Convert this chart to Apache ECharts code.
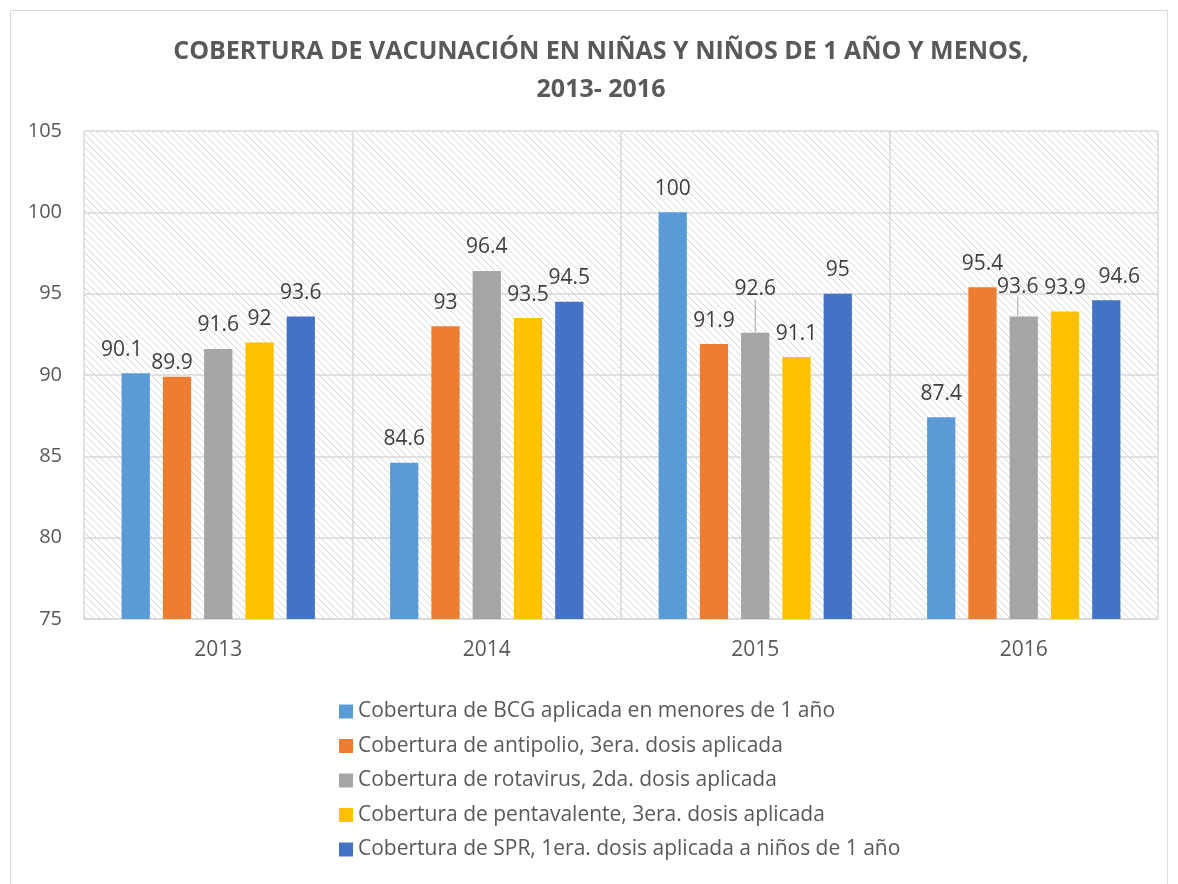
<!DOCTYPE html>
<html>
<head>
<meta charset="utf-8">
<script src="https://cdn.jsdelivr.net/npm/echarts@6/dist/echarts.min.js"></script>
<style>
  html, body { margin: 0; padding: 0; background: #fff; }
  #chart { width: 1178px; height: 884px; }
</style>
</head>
<body>
<div id="chart"></div>
<script>
var years = ['2013', '2014', '2015', '2016'];
var seriesNames = [
	'Cobertura de BCG aplicada en menores de 1 año',
	'Cobertura de antipolio, 3era. dosis aplicada',
	'Cobertura de rotavirus, 2da. dosis aplicada',
	'Cobertura de pentavalente, 3era. dosis aplicada',
	'Cobertura de SPR, 1era. dosis aplicada a niños de 1 año'
];
var bcg = [90.1, 84.6, 100, 87.4];
var antipolio = [89.9, 93, 91.9, 95.4];
var rotavirus = [91.6, 96.4, 92.6, 93.6];
var pentavalente = [92, 93.5, 91.1, 93.9];
var spr = [93.6, 94.5, 95, 94.6];
var yMin = 75, yMax = 105, yStep = 5;

var colors = ['#5B9BD5', '#ED7D31', '#A5A5A5', '#FFC000', '#4472C4'];
var font = 'Open Sans';

// hatch tile for plot background (excel "wide downward diagonal")
function hatch() {
	var c = document.createElement('canvas');
	var n = 7;
	c.width = n; c.height = n;
	var ctx = c.getContext('2d');
	ctx.fillStyle = '#fff';
	ctx.fillRect(0, 0, n, n);
	ctx.fillStyle = '#d6d6d6';
	for (var i = 0; i < n; i++) {
		ctx.fillRect(i, i, 1, 1);
	}
	return c;
}

// labels that excel had nudged away, [dx, dy] keyed by series-index
var moved = {
	'2-2': [0, -20],
	'2-3': [-6, -6],
	'4-3': [13, 0],
	'0-0': [-14, 0],
	'1-0': [-5, 10]
};

var allData = [bcg, antipolio, rotavirus, pentavalente, spr];
var series = allData.map(function (arr, s) {
	return {
		name: seriesNames[s],
		type: 'bar',
		barGap: '46%',
		barCategoryGap: '28%',
		itemStyle: {color: colors[s]},
		label: {
			show: true,
			position: 'top',
			distance: 13,
			color: '#404040',
			fontFamily: font,
			fontSize: 21
		},
		labelLine: {show: false, lineStyle: {color: '#a6a6a6', width: 1}},
		labelLayout: function (p) {
			var m = moved[p.seriesIndex + '-' + p.dataIndex];
			if (!m) return {};
			var r = p.labelRect;
			return {
				x: r.x + r.width / 2 + m[0],
				y: r.y + r.height / 2 + m[1],
				align: 'center',
				verticalAlign: 'middle'
			};
		},
		data: arr.map(function (v, i) {
			var item = {value: v};
			if (s === 2 && (i === 2 || i === 3)) item.labelLine = {show: true};
			return item;
		})
	};
});

var chart = echarts.init(document.getElementById('chart'));
chart.setOption({
	animation: false,
	color: colors,
	title: {
		text: 'COBERTURA DE VACUNACIÓN EN NIÑAS Y NIÑOS DE 1 AÑO Y MENOS,\n2013- 2016',
		left: 596,
		top: 28,
		textAlign: 'center',
		textStyle: {
			fontFamily: font,
			fontWeight: 'bold',
			fontSize: 25,
			color: '#595959',
			lineHeight: 38
		}
	},
	graphic: [{
		type: 'rect',
		shape: {x: 10.5, y: 10.5, width: 1157, height: 900},
		style: {fill: null, stroke: '#d9d9d9', lineWidth: 1},
		silent: true
	}],
	legend: {
		orient: 'vertical',
		left: 334,
		top: 696,
		itemWidth: 14,
		itemHeight: 14,
		itemGap: 13.5,
		icon: 'rect',
		textStyle: {fontFamily: font, fontSize: 21, color: '#595959'}
	},
	grid: {
		left: 84,
		right: 20,
		top: 131,
		bottom: 265,
		show: true,
		borderWidth: 0,
		backgroundColor: {image: hatch(), repeat: 'repeat'}
	},
	xAxis: {
		type: 'category',
		data: years,
		axisLine: {show: true, lineStyle: {color: '#d9d9d9', width: 1.5}},
		axisTick: {show: false},
		axisLabel: {margin: 21, fontFamily: font, fontSize: 21, color: '#595959'},
		splitLine: {show: true, lineStyle: {color: '#d9d9d9', width: 1.5}}
	},
	yAxis: {
		type: 'value',
		min: yMin,
		max: yMax,
		interval: yStep,
		axisLine: {show: false},
		axisTick: {show: false},
		axisLabel: {margin: 22, fontFamily: font, fontSize: 20, color: '#595959'},
		splitLine: {lineStyle: {color: '#d9d9d9', width: 1.5}}
	},
	series: series
});
</script>
</body>
</html>
